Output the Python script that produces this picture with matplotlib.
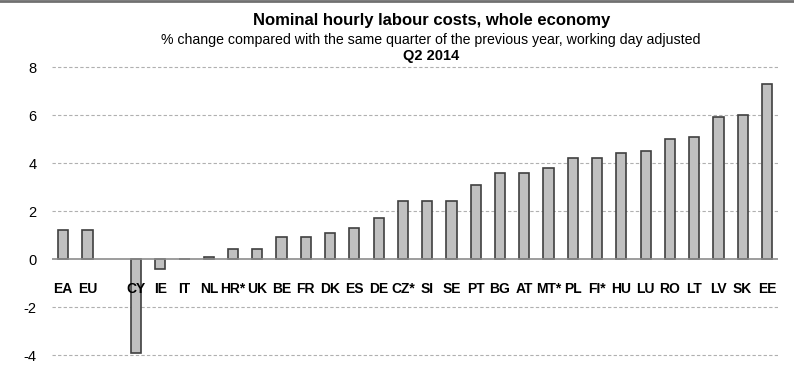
import matplotlib
matplotlib.use("Agg")
import matplotlib.pyplot as plt

# --- DATA ---
countries = ["EA", "EU", "", "CY", "IE", "IT", "NL", "HR*", "UK", "BE", "FR", "DK",
             "ES", "DE", "CZ*", "SI", "SE", "PT", "BG", "AT", "MT*", "PL", "FI*",
             "HU", "LU", "RO", "LT", "LV", "SK", "EE"]
changes = [1.2, 1.2, None, -3.9, -0.4, 0.0, 0.1, 0.4, 0.4, 0.9, 0.9, 1.1,
           1.3, 1.7, 2.4, 2.4, 2.4, 3.1, 3.6, 3.6, 3.8, 4.2, 4.2,
           4.4, 4.5, 5.0, 5.1, 5.9, 6.0, 7.3]
yticks = [-4, -2, 0, 2, 4, 6, 8]

plt.rcParams['font.family'] = ['Liberation Sans', 'DejaVu Sans']
plt.rcParams['axes.unicode_minus'] = False

fig = plt.figure(figsize=(7.94, 3.74), dpi=100)
ax = fig.add_axes([0.0655, 0.0251, 0.9145, 0.8214])

xs = [i for i, v in enumerate(changes) if v is not None]
vals = [v for v in changes if v is not None]
ax.bar(xs, vals, width=0.42, color="#c0c0c0", edgecolor="#404040",
       linewidth=1.2, zorder=3)

# country labels sit inside the plot, below the zero line
for i, name in enumerate(countries):
    ax.text(i, -1.25, name, ha="center", va="center", fontsize=10,
            fontweight="bold", zorder=4)

ax.axhline(0, color="#8c8c8c", linewidth=1.2, zorder=4)
for y in yticks:
    if y != 0:
        ax.axhline(y, color="#b0b0b0", linewidth=0.8, linestyle=(0, (3, 2)), zorder=1)

ax.set_xlim(-0.46, len(countries) - 0.54)
ax.set_ylim(-4.4, 8.4)
ax.set_yticks(yticks)
ax.set_xticks([])
ax.tick_params(axis="y", length=0, pad=11, labelsize=10.5)
for s in ax.spines.values():
    s.set_visible(False)

fig.text(0.543, 0.945, "Nominal hourly labour costs, whole economy",
         ha="center", va="center", fontsize=12, fontweight="bold")
fig.text(0.543, 0.893, "% change compared with the same quarter of the previous year, working day adjusted",
         ha="center", va="center", fontsize=10.15)
fig.text(0.543, 0.851, "Q2 2014", ha="center", va="center", fontsize=10.5, fontweight="bold")

# thin grey frame line at the top
fig.add_artist(plt.Line2D([0, 1], [0.997, 0.997], color="#707070", linewidth=2))

fig.savefig("out.png", dpi=100)
